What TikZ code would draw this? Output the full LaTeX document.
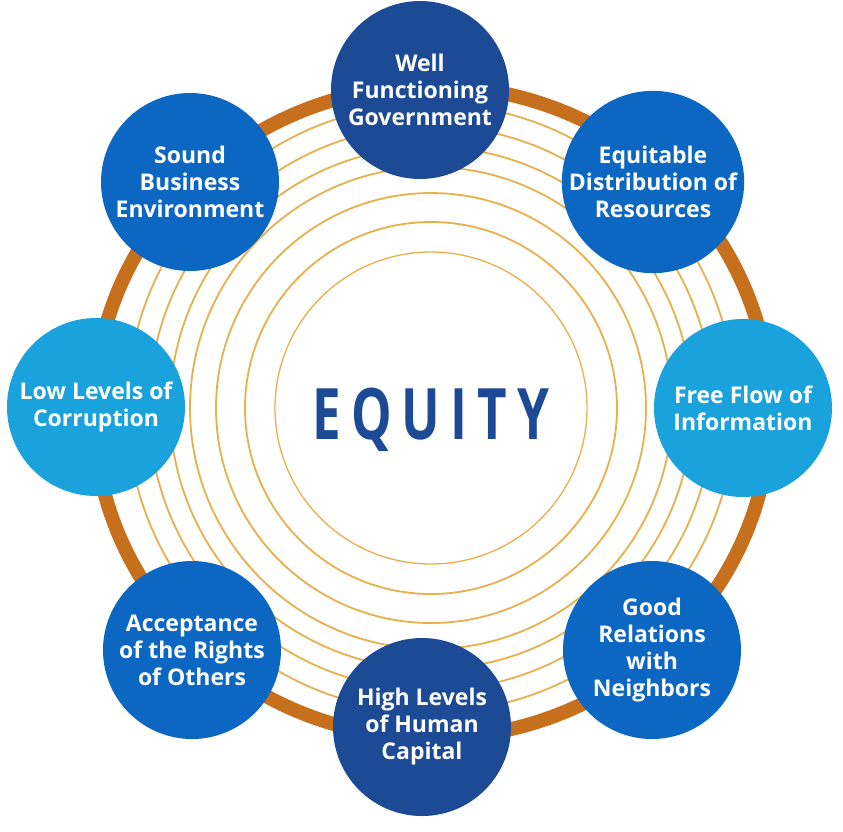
\documentclass[tikz,border=0pt]{standalone}
\usepackage{fontspec}
\setmainfont{Open Sans}
\newfontfamily\eqfont[LetterSpace=20]{Open Sans}
\definecolor{navy}{HTML}{1C4A95}
\definecolor{midblue}{HTML}{0C67C2}
\definecolor{lightblue}{HTML}{1AA2DD}
\definecolor{ringgold}{HTML}{E8B04C}
\definecolor{ringorange}{HTML}{C66F1C}
\tikzset{
  pillar/.style={circle, minimum size=178pt, inner sep=0pt, text=white, align=center,
    font=\bfseries\fontsize{23}{27}\selectfont},
  navyc/.style={pillar, fill=navy},
  midc/.style={pillar, fill=midblue},
  lightc/.style={pillar, fill=lightblue},
  thinring/.style={draw=ringgold, line width=1.8pt},
}
\begin{document}
\begin{tikzpicture}[x=1pt,y=-1pt]
\useasboundingbox (0,0) rectangle (843,831);
\fill[white] (0,0) rectangle (843,831);
% rings
\coordinate (rc) at (431,408);
\coordinate (oc) at (432,412);
\draw[ringorange, line width=14pt] (oc) ellipse[x radius=338, y radius=326];
\foreach \r in {304,282,261,241,215,186}{
  \draw[thinring] (rc) circle[radius=\r];
}
\draw[thinring, line width=1.3pt] (rc) circle[radius=156];
% centre text
\node[text=navy, inner sep=0pt] (eq) at (431,420)
  {\scalebox{0.72}[1]{\eqfont\bfseries\fontsize{71}{71}\selectfont EQUITY}};
% pillars
\node[navyc]  (gov)  at (420,90)  {Well\\Functioning\\Government};
\node[midc]   (res)  at (653,182) {Equitable\\Distribution of\\Resources};
\node[lightc] (info) at (743,408) {Free Flow of\\Information};
\node[midc]   (nbr)  at (652,650) {Good\\Relations\\with\\Neighbors};
\node[navyc]  (hum)  at (422,727) {High Levels\\of Human\\Capital};
\node[midc]   (acc)  at (192,650) {Acceptance\\of the Rights\\of Others};
\node[lightc] (cor)  at (96,407)  {Low Levels of\\Corruption};
\node[midc]   (bus)  at (190,182) {Sound\\Business\\Environment};
\end{tikzpicture}
\end{document}
